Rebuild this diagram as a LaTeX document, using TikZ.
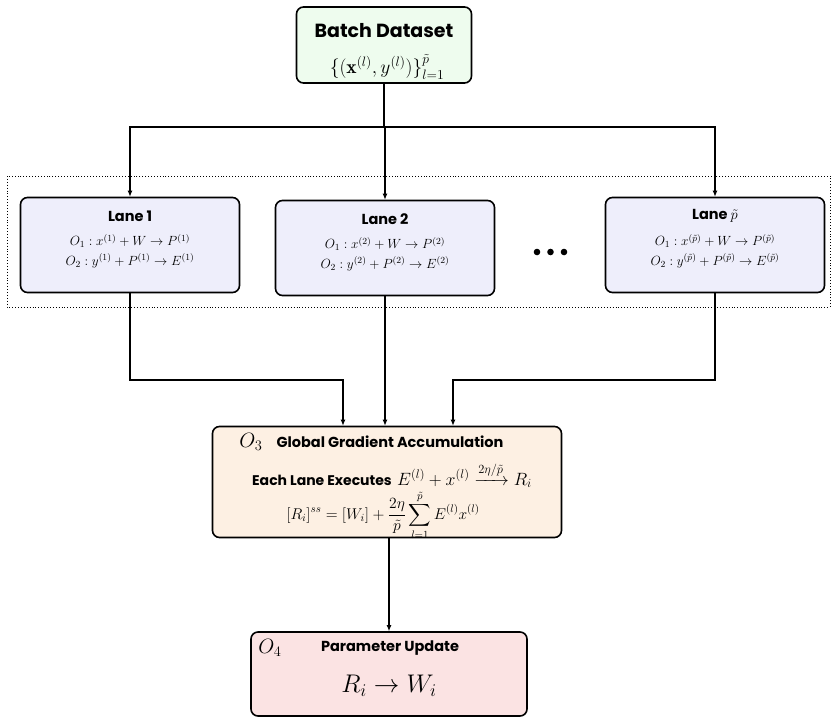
\RequirePackage{fix-cm}
\documentclass[tikz,border=0pt]{standalone}
\usepackage{amsmath, amssymb}
\usepackage{fontspec}
\newfontfamily\headfont{Poppins}
\usetikzlibrary{arrows.meta}
\definecolor{batchfill}{HTML}{EEFCEE}
\definecolor{lanefill}{HTML}{EEEEFB}
\definecolor{accumfill}{HTML}{FDF0E3}
\definecolor{updatefill}{HTML}{FBE3E3}

\begin{document}
\begin{tikzpicture}[x=1pt, y=-1pt,
    box/.style={draw, line width=1.6pt, rounded corners=7pt, inner sep=0pt},
    head/.style={font=\headfont\bfseries\fontsize{14.5}{17}\selectfont, inner sep=0pt},
    eq/.style={font=\fontsize{13.3}{15}\selectfont, inner sep=0pt},
    link/.style={line width=1.1pt, -{Latex[length=6pt,width=5pt]}}]
    \useasboundingbox (0,0) rectangle (838,724);
    % input
    \node[box, fill=batchfill, minimum width=175pt, minimum height=76pt] (batch) at (384,45) {};
    \node[head, font=\headfont\bfseries\fontsize{19}{22}\selectfont] (batchtitle) at (384,31) {Batch Dataset};
    \node[eq, font=\fontsize{19.5}{22}\selectfont] (batchdata) at (387,67) {$\{(\mathbf{x}^{(l)}, y^{(l)})\}_{l=1}^{\tilde{p}}$};
    % lanes
    \draw[dotted, line width=0.9pt] (7,176) rectangle (830,307);
    \foreach \k/\cx/\cy/\lab/\up in {1/130/245/1/(1), 2/385/248/2/(2), p/715/245/{$\tilde{p}$}/(\tilde{p})} {
        \node[box, fill=lanefill, minimum width=219pt, minimum height=95pt] (lane\k) at (\cx,\cy) {};
        \node[head] (lane\k title) at (\cx,\cy-29) {Lane \lab};
        \node[eq] (lane\k o1) at (\cx,\cy-4) {$O_1 : x^{\up} + W \to P^{\up}$};
        \node[eq] (lane\k o2) at (\cx,\cy+16) {$O_2 : y^{\up} + P^{\up} \to E^{\up}$};
    }
    \foreach \i in {0,1,2}
        \fill (537+13.5*\i,252) circle (3.3pt);
    % accumulation
    \node[box, fill=accumfill, minimum width=349pt, minimum height=111pt] (accum) at (387,482) {};
    \node[eq, font=\fontsize{20.7}{23}\selectfont] (o3) at (251,442) {$O_3$};
    \node[head] (accumtitle) at (390,442) {Global Gradient Accumulation};
    \node[eq, font=\fontsize{17.8}{21}\selectfont] (exec) at (392,475) {{\headfont\bfseries\fontsize{14}{16}\selectfont Each Lane Executes} $E^{(l)} + x^{(l)} \xrightarrow{2\eta/\tilde{p}} R_i$};
    \node[eq, font=\fontsize{15.6}{18}\selectfont] (gradsum) at (383,515) {$\displaystyle [R_i]^{ss} = [W_i] + \frac{2\eta}{\tilde{p}} \sum_{l=1}^{\tilde{p}} E^{(l)} x^{(l)}$};
    % update
    \node[box, fill=updatefill, minimum width=276pt, minimum height=84pt] (update) at (389,674) {};
    \node[eq, font=\fontsize{20.7}{23}\selectfont] (o4) at (270,648) {$O_4$};
    \node[head] (updatetitle) at (390,648) {Parameter Update};
    \node[eq, font=\fontsize{25.5}{29}\selectfont] (rule) at (389,686) {$R_i \to W_i$};
    % connectors
    \coordinate (split) at (384,127);
    \coordinate (inL) at (343,380);
    \coordinate (inR) at (453,380);
    \draw[line width=1.1pt] (batch.south) -- (split);
    \draw[link] (split) -| (lane1.north);
    \draw[link] (split) -| (lane2.north);
    \draw[link] (split) -| (lanep.north);
    \draw[link] (lane1.south) |- (inL) -- (inL |- accum.north);
    \draw[link] (lane2.south) -- (lane2.south |- accum.north);
    \draw[link] (lanep.south) |- (inR) -- (inR |- accum.north);
    \draw[link] (accum.south -| update.north) -- (update.north);
\end{tikzpicture}
\end{document}
